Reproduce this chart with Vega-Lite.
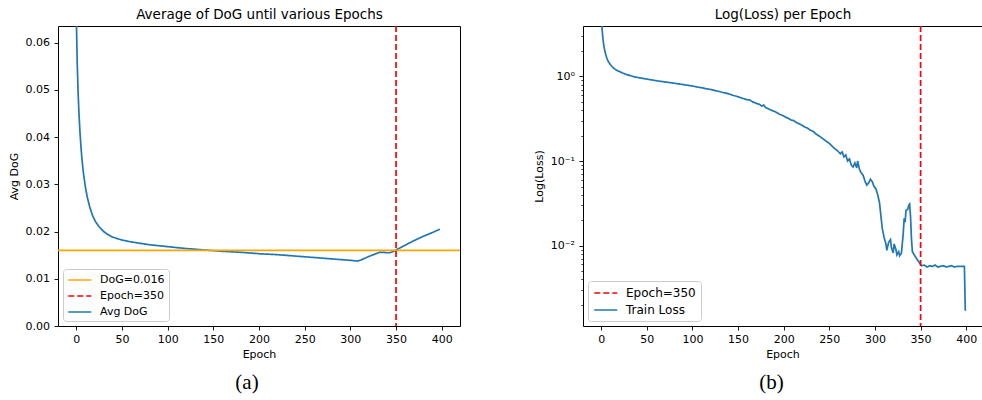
{
  "$schema": "https://vega.github.io/schema/vega-lite/v6.json",
  "padding": {"left": 7, "top": 6, "right": 0, "bottom": 0},
  "bounds": "flush",
  "spacing": 123,
  "datasets": {
    "dog": [
      {"epoch": 0, "avg_dog": 0.066}, {"epoch": 1, "avg_dog": 0.056}, {"epoch": 2, "avg_dog": 0.0495},
      {"epoch": 3, "avg_dog": 0.0448}, {"epoch": 4, "avg_dog": 0.0412}, {"epoch": 5, "avg_dog": 0.0383},
      {"epoch": 6, "avg_dog": 0.0358}, {"epoch": 7, "avg_dog": 0.0338}, {"epoch": 8, "avg_dog": 0.0321},
      {"epoch": 10, "avg_dog": 0.0294}, {"epoch": 12, "avg_dog": 0.0273}, {"epoch": 15, "avg_dog": 0.025},
      {"epoch": 18, "avg_dog": 0.0233}, {"epoch": 21, "avg_dog": 0.0221}, {"epoch": 25, "avg_dog": 0.021},
      {"epoch": 30, "avg_dog": 0.02}, {"epoch": 35, "avg_dog": 0.0193}, {"epoch": 40, "avg_dog": 0.0188},
      {"epoch": 50, "avg_dog": 0.0182}, {"epoch": 60, "avg_dog": 0.0178}, {"epoch": 70, "avg_dog": 0.0175},
      {"epoch": 80, "avg_dog": 0.0172}, {"epoch": 90, "avg_dog": 0.017}, {"epoch": 100, "avg_dog": 0.0168},
      {"epoch": 120, "avg_dog": 0.0164}, {"epoch": 140, "avg_dog": 0.0161}, {"epoch": 160, "avg_dog": 0.0158},
      {"epoch": 180, "avg_dog": 0.0156}, {"epoch": 200, "avg_dog": 0.0153}, {"epoch": 220, "avg_dog": 0.0151},
      {"epoch": 240, "avg_dog": 0.0148}, {"epoch": 260, "avg_dog": 0.0145}, {"epoch": 280, "avg_dog": 0.0142},
      {"epoch": 300, "avg_dog": 0.0139}, {"epoch": 305, "avg_dog": 0.0138}, {"epoch": 308, "avg_dog": 0.01375},
      {"epoch": 312, "avg_dog": 0.014}, {"epoch": 320, "avg_dog": 0.0147}, {"epoch": 328, "avg_dog": 0.0153},
      {"epoch": 332, "avg_dog": 0.0156}, {"epoch": 336, "avg_dog": 0.0156}, {"epoch": 340, "avg_dog": 0.0155},
      {"epoch": 343, "avg_dog": 0.0155}, {"epoch": 346, "avg_dog": 0.0157}, {"epoch": 350, "avg_dog": 0.0161},
      {"epoch": 355, "avg_dog": 0.0166}, {"epoch": 360, "avg_dog": 0.0171}, {"epoch": 370, "avg_dog": 0.0181},
      {"epoch": 380, "avg_dog": 0.019}, {"epoch": 390, "avg_dog": 0.0198}, {"epoch": 398, "avg_dog": 0.0205}
    ],
    "loss": [
      {"epoch": 0, "loss": 6.0}, {"epoch": 1, "loss": 3.5}, {"epoch": 2, "loss": 2.7}, {"epoch": 3, "loss": 2.25},
      {"epoch": 4, "loss": 1.98}, {"epoch": 5, "loss": 1.8}, {"epoch": 6, "loss": 1.66}, {"epoch": 7, "loss": 1.56},
      {"epoch": 8, "loss": 1.48}, {"epoch": 10, "loss": 1.38}, {"epoch": 12, "loss": 1.3}, {"epoch": 14, "loss": 1.24},
      {"epoch": 17, "loss": 1.18}, {"epoch": 20, "loss": 1.14}, {"epoch": 24, "loss": 1.09}, {"epoch": 28, "loss": 1.05},
      {"epoch": 32, "loss": 1.02}, {"epoch": 36, "loss": 0.99}, {"epoch": 40, "loss": 0.97}, {"epoch": 45, "loss": 0.95},
      {"epoch": 50, "loss": 0.93}, {"epoch": 55, "loss": 0.91}, {"epoch": 60, "loss": 0.89}, {"epoch": 65, "loss": 0.875},
      {"epoch": 70, "loss": 0.86}, {"epoch": 75, "loss": 0.845}, {"epoch": 80, "loss": 0.83}, {"epoch": 85, "loss": 0.815},
      {"epoch": 90, "loss": 0.8}, {"epoch": 95, "loss": 0.785}, {"epoch": 100, "loss": 0.77}, {"epoch": 105, "loss": 0.75},
      {"epoch": 110, "loss": 0.735}, {"epoch": 115, "loss": 0.715}, {"epoch": 120, "loss": 0.7}, {"epoch": 125, "loss": 0.68},
      {"epoch": 130, "loss": 0.66}, {"epoch": 135, "loss": 0.64}, {"epoch": 140, "loss": 0.62}, {"epoch": 145, "loss": 0.595},
      {"epoch": 150, "loss": 0.575}, {"epoch": 155, "loss": 0.55}, {"epoch": 160, "loss": 0.53}, {"epoch": 163, "loss": 0.525},
      {"epoch": 166, "loss": 0.5}, {"epoch": 170, "loss": 0.48}, {"epoch": 173, "loss": 0.47}, {"epoch": 176, "loss": 0.445},
      {"epoch": 178, "loss": 0.46}, {"epoch": 180, "loss": 0.43}, {"epoch": 183, "loss": 0.415}, {"epoch": 186, "loss": 0.4},
      {"epoch": 190, "loss": 0.385}, {"epoch": 193, "loss": 0.37}, {"epoch": 196, "loss": 0.355}, {"epoch": 199, "loss": 0.345},
      {"epoch": 202, "loss": 0.33}, {"epoch": 205, "loss": 0.32}, {"epoch": 208, "loss": 0.305}, {"epoch": 211, "loss": 0.3},
      {"epoch": 214, "loss": 0.285}, {"epoch": 217, "loss": 0.275}, {"epoch": 220, "loss": 0.265}, {"epoch": 223, "loss": 0.252},
      {"epoch": 226, "loss": 0.245}, {"epoch": 229, "loss": 0.232}, {"epoch": 232, "loss": 0.225}, {"epoch": 235, "loss": 0.21},
      {"epoch": 238, "loss": 0.2}, {"epoch": 241, "loss": 0.19}, {"epoch": 244, "loss": 0.18}, {"epoch": 247, "loss": 0.17},
      {"epoch": 250, "loss": 0.162}, {"epoch": 253, "loss": 0.15}, {"epoch": 256, "loss": 0.14}, {"epoch": 259, "loss": 0.132},
      {"epoch": 262, "loss": 0.122}, {"epoch": 264, "loss": 0.128}, {"epoch": 266, "loss": 0.112}, {"epoch": 268, "loss": 0.118},
      {"epoch": 270, "loss": 0.1}, {"epoch": 272, "loss": 0.106}, {"epoch": 274, "loss": 0.09}, {"epoch": 276, "loss": 0.085},
      {"epoch": 278, "loss": 0.095}, {"epoch": 280, "loss": 0.083}, {"epoch": 281, "loss": 0.1}, {"epoch": 283, "loss": 0.08},
      {"epoch": 285, "loss": 0.072}, {"epoch": 287, "loss": 0.068}, {"epoch": 289, "loss": 0.058}, {"epoch": 291, "loss": 0.052},
      {"epoch": 293, "loss": 0.055}, {"epoch": 295, "loss": 0.061}, {"epoch": 297, "loss": 0.057}, {"epoch": 299, "loss": 0.05},
      {"epoch": 301, "loss": 0.047}, {"epoch": 303, "loss": 0.04}, {"epoch": 305, "loss": 0.032}, {"epoch": 307, "loss": 0.02},
      {"epoch": 308, "loss": 0.016}, {"epoch": 310, "loss": 0.0125}, {"epoch": 312, "loss": 0.0105}, {"epoch": 313, "loss": 0.0088},
      {"epoch": 315, "loss": 0.011}, {"epoch": 317, "loss": 0.0118}, {"epoch": 318, "loss": 0.0095}, {"epoch": 320, "loss": 0.0082},
      {"epoch": 321, "loss": 0.0105}, {"epoch": 323, "loss": 0.009}, {"epoch": 324, "loss": 0.0078}, {"epoch": 326, "loss": 0.0085},
      {"epoch": 327, "loss": 0.0076}, {"epoch": 329, "loss": 0.0082}, {"epoch": 331, "loss": 0.014}, {"epoch": 332, "loss": 0.021},
      {"epoch": 333, "loss": 0.019}, {"epoch": 334, "loss": 0.026}, {"epoch": 336, "loss": 0.027}, {"epoch": 337, "loss": 0.03},
      {"epoch": 338, "loss": 0.031}, {"epoch": 339, "loss": 0.022}, {"epoch": 340, "loss": 0.012}, {"epoch": 341, "loss": 0.0085},
      {"epoch": 343, "loss": 0.0078}, {"epoch": 345, "loss": 0.0072}, {"epoch": 347, "loss": 0.0067}, {"epoch": 349, "loss": 0.0062},
      {"epoch": 351, "loss": 0.0058}, {"epoch": 354, "loss": 0.0059}, {"epoch": 357, "loss": 0.0056}, {"epoch": 360, "loss": 0.0058},
      {"epoch": 363, "loss": 0.0057}, {"epoch": 366, "loss": 0.0059}, {"epoch": 369, "loss": 0.0056}, {"epoch": 372, "loss": 0.0057},
      {"epoch": 375, "loss": 0.0058}, {"epoch": 378, "loss": 0.0056}, {"epoch": 381, "loss": 0.0057}, {"epoch": 384, "loss": 0.0058},
      {"epoch": 387, "loss": 0.0056}, {"epoch": 390, "loss": 0.0057}, {"epoch": 393, "loss": 0.0057}, {"epoch": 396, "loss": 0.0057},
      {"epoch": 398, "loss": 0.0057}, {"epoch": 399, "loss": 0.0017}
    ],
    "hline": [{"value": 0.016}],
    "vline": [{"epoch": 350}]
  },
  "hconcat": [
    {
      "width": 402,
      "height": 300,
      "title": {"text": "(a)", "orient": "bottom", "frame": "group", "anchor": "middle", "dx": -12, "offset": 13, "font": "Liberation Serif", "fontSize": 21, "fontWeight": "normal", "color": "black"},
      "resolve": {"axis": {"x": "independent"}},
      "layer": [
        {
          "data": {"name": "dog"},
          "mark": {"type": "line", "strokeWidth": 1.7, "clip": true},
          "encoding": {
            "x": {"field": "epoch", "type": "quantitative", "scale": {"domain": [-20, 420], "nice": false, "zero": false},
                  "axis": {"orient": "bottom", "values": [0, 50, 100, 150, 200, 250, 300, 350, 400], "title": "Epoch", "labelPadding": 3, "titlePadding": 4}},
            "y": {"field": "avg_dog", "type": "quantitative", "scale": {"domain": [0, 0.0635], "nice": false},
                  "axis": {"values": [0, 0.01, 0.02, 0.03, 0.04, 0.05, 0.06], "format": ".2f", "title": "Avg DoG"}},
            "color": {"datum": "Avg DoG", "type": "nominal",
                      "scale": {"domain": ["DoG=0.016", "Epoch=350", "Avg DoG"], "range": ["#ffa500", "#ff0000", "#1f77b4"]},
                      "legend": {"title": null, "labelFontSize": 11}},
            "strokeDash": {"datum": "Avg DoG", "type": "nominal",
                      "scale": {"domain": ["DoG=0.016", "Epoch=350", "Avg DoG"], "range": [[1, 0], [6, 3], [1, 0]]},
                      "legend": {"title": null, "labelFontSize": 11}}
          }
        },
        {
          "data": {"name": "hline"},
          "mark": {"type": "rule", "strokeWidth": 1.8},
          "encoding": {
            "y": {"field": "value", "type": "quantitative"},
            "color": {"datum": "DoG=0.016", "type": "nominal"},
            "strokeDash": {"datum": "DoG=0.016", "type": "nominal"}
          }
        },
        {
          "data": {"name": "vline"},
          "mark": {"type": "rule", "strokeWidth": 1.7},
          "encoding": {
            "x": {"field": "epoch", "type": "quantitative",
                  "axis": {"orient": "top", "title": "Average of DoG until various Epochs", "labels": false, "ticks": false, "domain": false, "titleFontSize": 13.5, "titlePadding": 5}},
            "color": {"datum": "Epoch=350", "type": "nominal"},
            "strokeDash": {"datum": "Epoch=350", "type": "nominal"}
          }
        }
      ]
    },
    {
      "width": 399,
      "height": 300,
      "title": {"text": "(b)", "orient": "bottom", "frame": "group", "anchor": "middle", "dx": -11, "offset": 13, "font": "Liberation Serif", "fontSize": 21, "fontWeight": "normal", "color": "black"},
      "resolve": {"axis": {"x": "independent"}},
      "layer": [
        {
          "data": {"name": "loss"},
          "mark": {"type": "line", "strokeWidth": 1.7, "clip": true},
          "encoding": {
            "x": {"field": "epoch", "type": "quantitative", "scale": {"domain": [-20, 417.3], "nice": false, "zero": false},
                  "axis": {"orient": "bottom", "values": [0, 50, 100, 150, 200, 250, 300, 350, 400], "title": "Epoch", "labelPadding": 3, "titlePadding": 4}},
            "y": {"field": "loss", "type": "quantitative", "scale": {"type": "log", "domain": [0.001125, 3.94], "nice": false},
                  "axis": {"title": "Log(Loss)", "labelOverlap": false,
                           "values": [0.002, 0.003, 0.004, 0.005, 0.006, 0.007, 0.008, 0.009, 0.01, 0.02, 0.03, 0.04, 0.05, 0.06, 0.07, 0.08, 0.09, 0.1, 0.2, 0.3, 0.4, 0.5, 0.6, 0.7, 0.8, 0.9, 1, 2, 3],
                           "labelExpr": "datum.value == 1 ? '10⁰' : datum.value == 0.1 ? '10⁻¹' : datum.value == 0.01 ? '10⁻²' : ''",
                           "tickSize": {"condition": {"test": "datum.value == 1 || datum.value == 0.1 || datum.value == 0.01", "value": 4}, "value": 2.2},
                           "tickWidth": {"condition": {"test": "datum.value == 1 || datum.value == 0.1 || datum.value == 0.01", "value": 0.9}, "value": 0.7}}},
            "color": {"datum": "Train Loss", "type": "nominal",
                      "scale": {"domain": ["Epoch=350", "Train Loss"], "range": ["#ff0000", "#1f77b4"]},
                      "legend": {"title": null, "labelFontSize": 12, "offset": 5, "padding": 5}},
            "strokeDash": {"datum": "Train Loss", "type": "nominal",
                      "scale": {"domain": ["Epoch=350", "Train Loss"], "range": [[6, 3], [1, 0]]},
                      "legend": {"title": null, "labelFontSize": 12, "offset": 5, "padding": 5}}
          }
        },
        {
          "data": {"name": "vline"},
          "mark": {"type": "rule", "strokeWidth": 1.7},
          "encoding": {
            "x": {"field": "epoch", "type": "quantitative",
                  "axis": {"orient": "top", "title": "Log(Loss) per Epoch", "labels": false, "ticks": false, "domain": false, "titleFontSize": 13.5, "titlePadding": 5}},
            "color": {"datum": "Epoch=350", "type": "nominal"},
            "strokeDash": {"datum": "Epoch=350", "type": "nominal"}
          }
        }
      ]
    }
  ],
  "resolve": {
    "scale": {"color": "independent", "strokeDash": "independent"},
    "legend": {"color": "independent", "strokeDash": "independent"}
  },
  "config": {
    "font": "DejaVu Sans",
    "background": "white",
    "view": {"stroke": "black", "strokeWidth": 1},
    "axis": {
      "grid": false, "domain": false, "tickColor": "black", "tickSize": 4, "tickWidth": 0.9,
      "labelFont": "DejaVu Sans", "labelFontSize": 11, "labelColor": "black", "labelPadding": 4.5,
      "titleFont": "DejaVu Sans", "titleFontSize": 11, "titleFontWeight": "normal", "titleColor": "black", "titlePadding": 6
    },
    "legend": {
      "orient": "bottom-left", "offset": 5, "padding": 4, "symbolType": "M-1,0H3", "symbolSize": 132,
      "symbolStrokeWidth": 1.7, "labelFont": "DejaVu Sans", "labelColor": "black", "labelOffset": 19,
      "rowPadding": 4, "fillColor": "rgba(255,255,255,0.8)", "strokeColor": "#cccccc", "cornerRadius": 3
    }
  }
}
